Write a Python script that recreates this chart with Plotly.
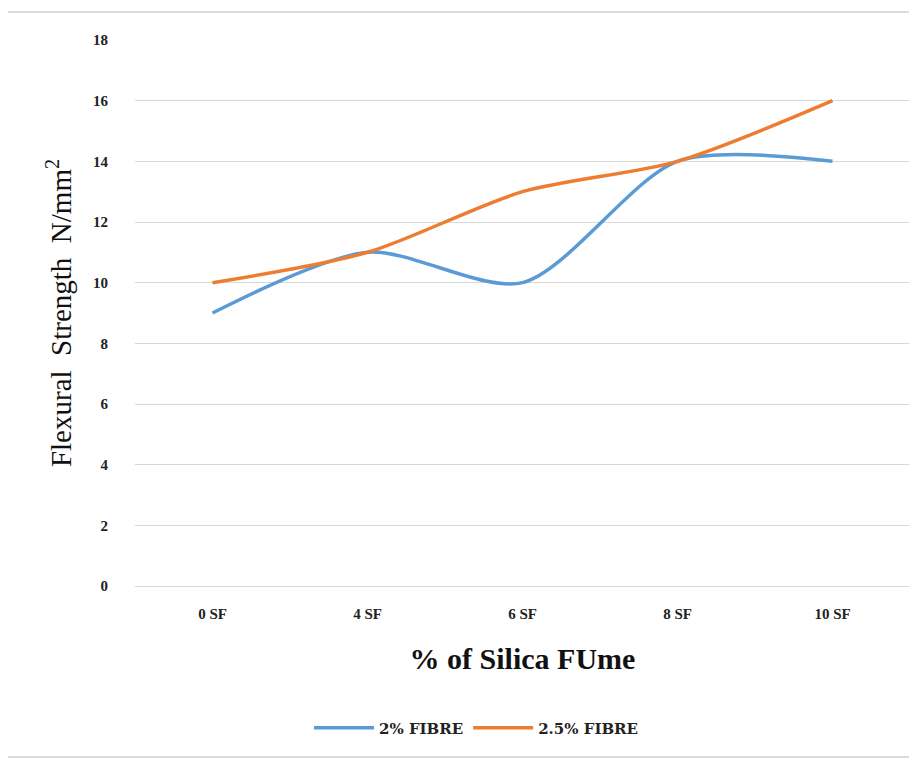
import plotly.graph_objects as go

categories = ["0 SF", "4 SF", "6 SF", "8 SF", "10 SF"]
fibre_2 = [9, 11, 10, 14, 14]
fibre_25 = [10, 11, 13, 14, 16]
series_names = ["2% FIBRE", "2.5% FIBRE"]
y_ticks = [0, 2, 4, 6, 8, 10, 12, 14, 16, 18]

fig = go.Figure()
fig.add_trace(go.Scatter(x=categories, y=fibre_2, name="<b>" + series_names[0] + "</b>", mode="lines",
                         line=dict(color="#5B9BD5", width=3.5, shape="spline", smoothing=0.8)))
fig.add_trace(go.Scatter(x=categories, y=fibre_25, name="<b>" + series_names[1] + "</b>", mode="lines",
                         line=dict(color="#ED7D31", width=3.5, shape="spline", smoothing=0.8)))

fig.update_layout(
    width=909, height=753,
    paper_bgcolor="white", plot_bgcolor="white",
    margin=dict(l=127, r=7, t=32, b=175),
    xaxis=dict(type="category", range=[-0.5, 4.5], showgrid=False, showline=True,
               linecolor="#d9d9d9", linewidth=1,
               tickvals=categories, ticktext=["<b>" + c + "</b>" for c in categories],
               tickfont=dict(family="Liberation Serif", size=15, color="#222222"),
               ticks="", ticklabelstandoff=14,
               title=dict(text="<b>% of Silica FUme</b>", standoff=26,
                          font=dict(family="Liberation Serif", size=30, color="#111111"))),
    yaxis=dict(range=[0, 18], tickvals=y_ticks, ticktext=["<b>%d</b>" % v for v in y_ticks],
               showgrid=True, gridcolor="#d9d9d9", gridwidth=1,
               zeroline=False, showline=False, ticks="", ticklabelstandoff=26,
               tickfont=dict(family="Liberation Serif", size=15, color="#222222"),
               title=dict(text="Flexural  Strength  N/mm<sup>2</sup>", standoff=12,
                          font=dict(family="Liberation Serif", size=29, color="#111111"))),
    legend=dict(orientation="h", x=0.44, xanchor="center", y=-0.26, yanchor="middle",
                font=dict(family="DejaVu Serif", size=15, color="#222222"),
                itemwidth=60),
    shapes=[dict(type="rect", xref="paper", yref="paper",
                 x0=-0.1655, x1=1.004, y0=-0.313, y1=1.0513,
                 line=dict(color="#d0d0d0", width=1.5), fillcolor="rgba(0,0,0,0)", layer="below")],
)

fig.write_html("out.html")
